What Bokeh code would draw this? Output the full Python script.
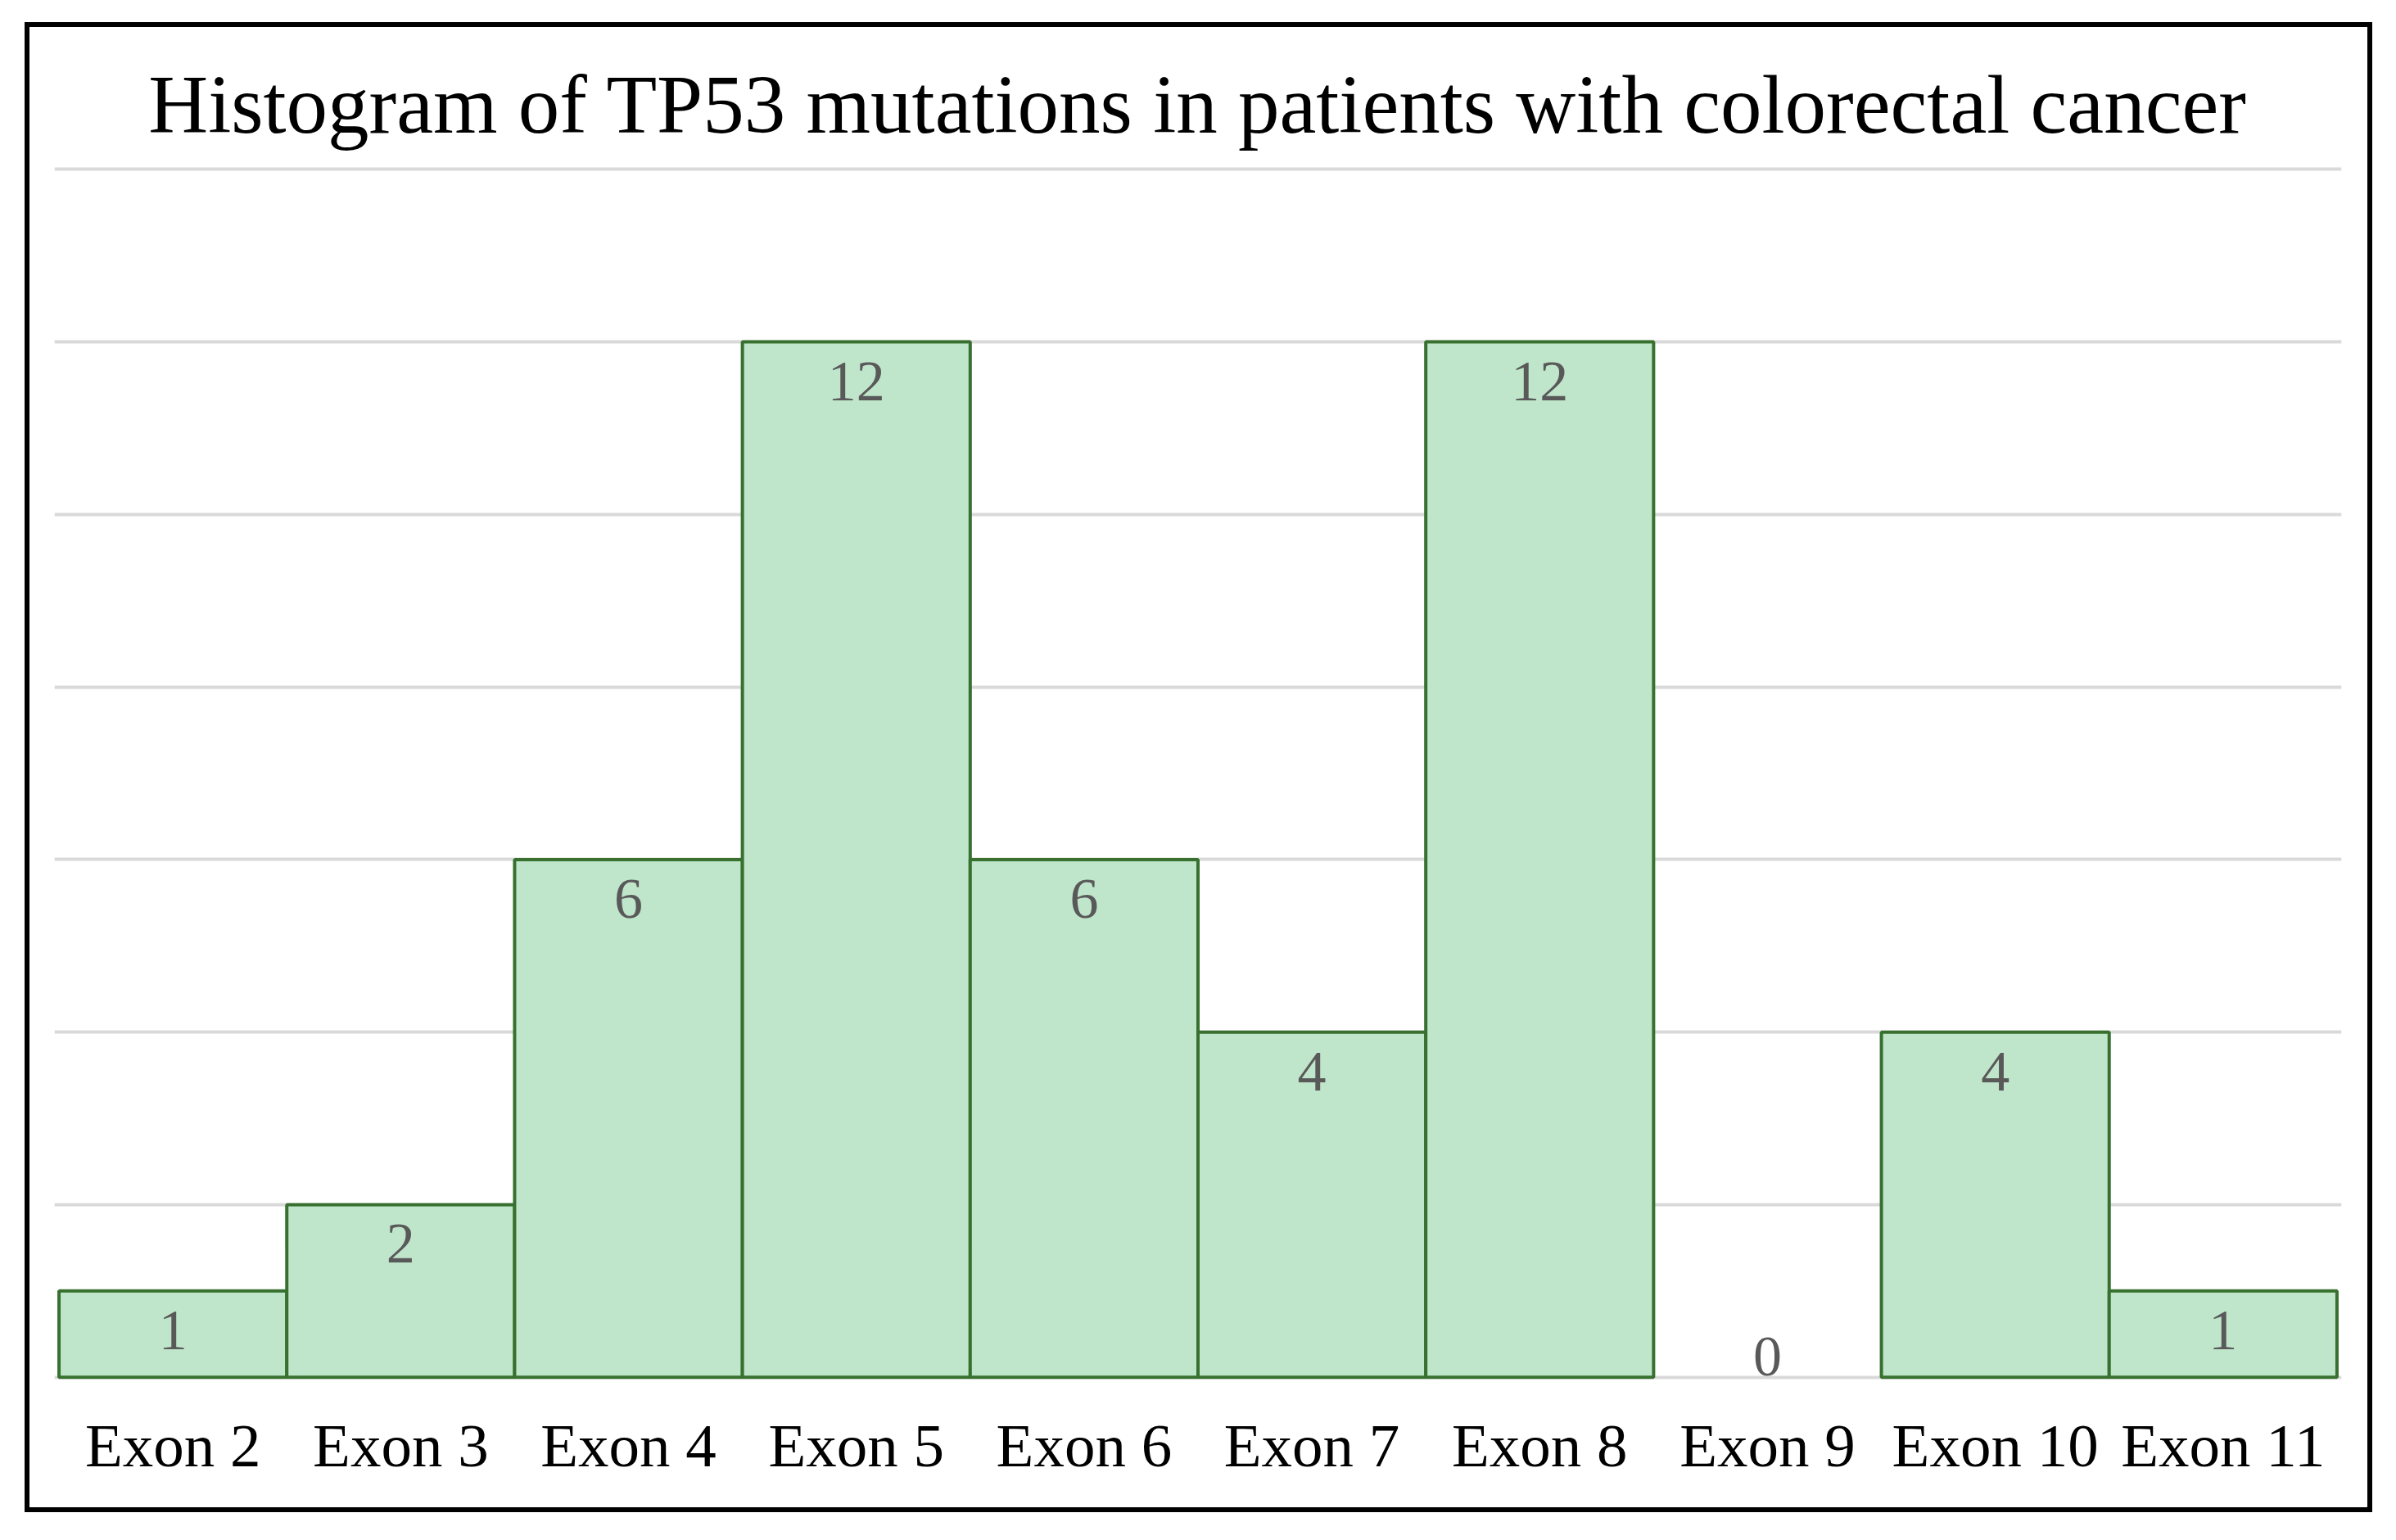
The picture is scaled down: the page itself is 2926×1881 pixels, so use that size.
from bokeh.plotting import figure
from bokeh.models import ColumnDataSource, FixedTicker, FactorRange, Range1d
from bokeh.core.properties import value
from bokeh.embed import file_html
from bokeh.resources import INLINE

# ---- data ----
exons = ["Exon 2", "Exon 3", "Exon 4", "Exon 5", "Exon 6",
         "Exon 7", "Exon 8", "Exon 9", "Exon 10", "Exon 11"]
counts = [1, 2, 6, 12, 6, 4, 12, 0, 4, 1]
y_ticks = [0, 2, 4, 6, 8, 10, 12, 14]
title_text = "Histogram of TP53 mutations in patients with colorectal cancer"

SERIF = "Liberation Serif"
W, H = 2867, 1820   # outer size, border included (border-box)

p = figure(width=W, height=H,
           x_range=FactorRange(factors=exons, range_padding=0.02, range_padding_units="absolute"),
           y_range=Range1d(-0.05, 14.05),
           output_backend="svg", toolbar_location=None,
           min_border_left=30, min_border_right=44,
           min_border_top=168, min_border_bottom=166,
           margin=(27, 0, 0, 30))
p.styles = {"border": "6px solid black", "box-sizing": "border-box"}

p.background_fill_color = "white"
p.border_fill_color = "white"
p.outline_line_color = None

# title
p.title.text = title_text
p.title.align = "center"
p.title.text_font = SERIF
p.title.text_font_size = "101px"
p.title.text_font_style = "normal"
p.title.text_color = "black"
p.title.standoff = 36

# axes
p.yaxis.ticker = FixedTicker(ticks=y_ticks)
p.yaxis.visible = False
p.xaxis.axis_line_color = None
p.xaxis.major_tick_line_color = None
p.xaxis.minor_tick_line_color = None
p.xaxis.major_tick_out = 0
p.xaxis.major_tick_in = 0
p.xaxis.major_label_standoff = 36
p.xaxis.major_label_text_font = SERIF
p.xaxis.major_label_text_font_size = "75px"
p.xaxis.major_label_text_color = "black"

# grid
p.xgrid.grid_line_color = None
p.ygrid.ticker = FixedTicker(ticks=y_ticks)
p.ygrid.grid_line_color = "#D9D9D9"
p.ygrid.grid_line_width = 4

nz = [i for i, c in enumerate(counts) if c > 0]
zz = [i for i, c in enumerate(counts) if c == 0]
src_nz = ColumnDataSource(dict(exon=[exons[i] for i in nz], count=[counts[i] for i in nz],
                               label=[str(counts[i]) for i in nz]))
src_z = ColumnDataSource(dict(exon=[exons[i] for i in zz], count=[counts[i] for i in zz],
                              label=[str(counts[i]) for i in zz]))

p.vbar(x="exon", top="count", bottom=0, width=1.0, source=src_nz,
       fill_color="#BFE6CB", line_color="#38712F", line_width=4)

p.text(x="exon", y="count", text="label", source=src_nz,
       text_font=value(SERIF), text_font_size="70px", text_color="#595959",
       text_align="center", text_baseline="middle", y_offset=48)
p.text(x="exon", y="count", text="label", source=src_z,
       text_font=value(SERIF), text_font_size="70px", text_color="#595959",
       text_align="center", text_baseline="middle", y_offset=-25)

open("out.html", "w").write(file_html(p, INLINE))
